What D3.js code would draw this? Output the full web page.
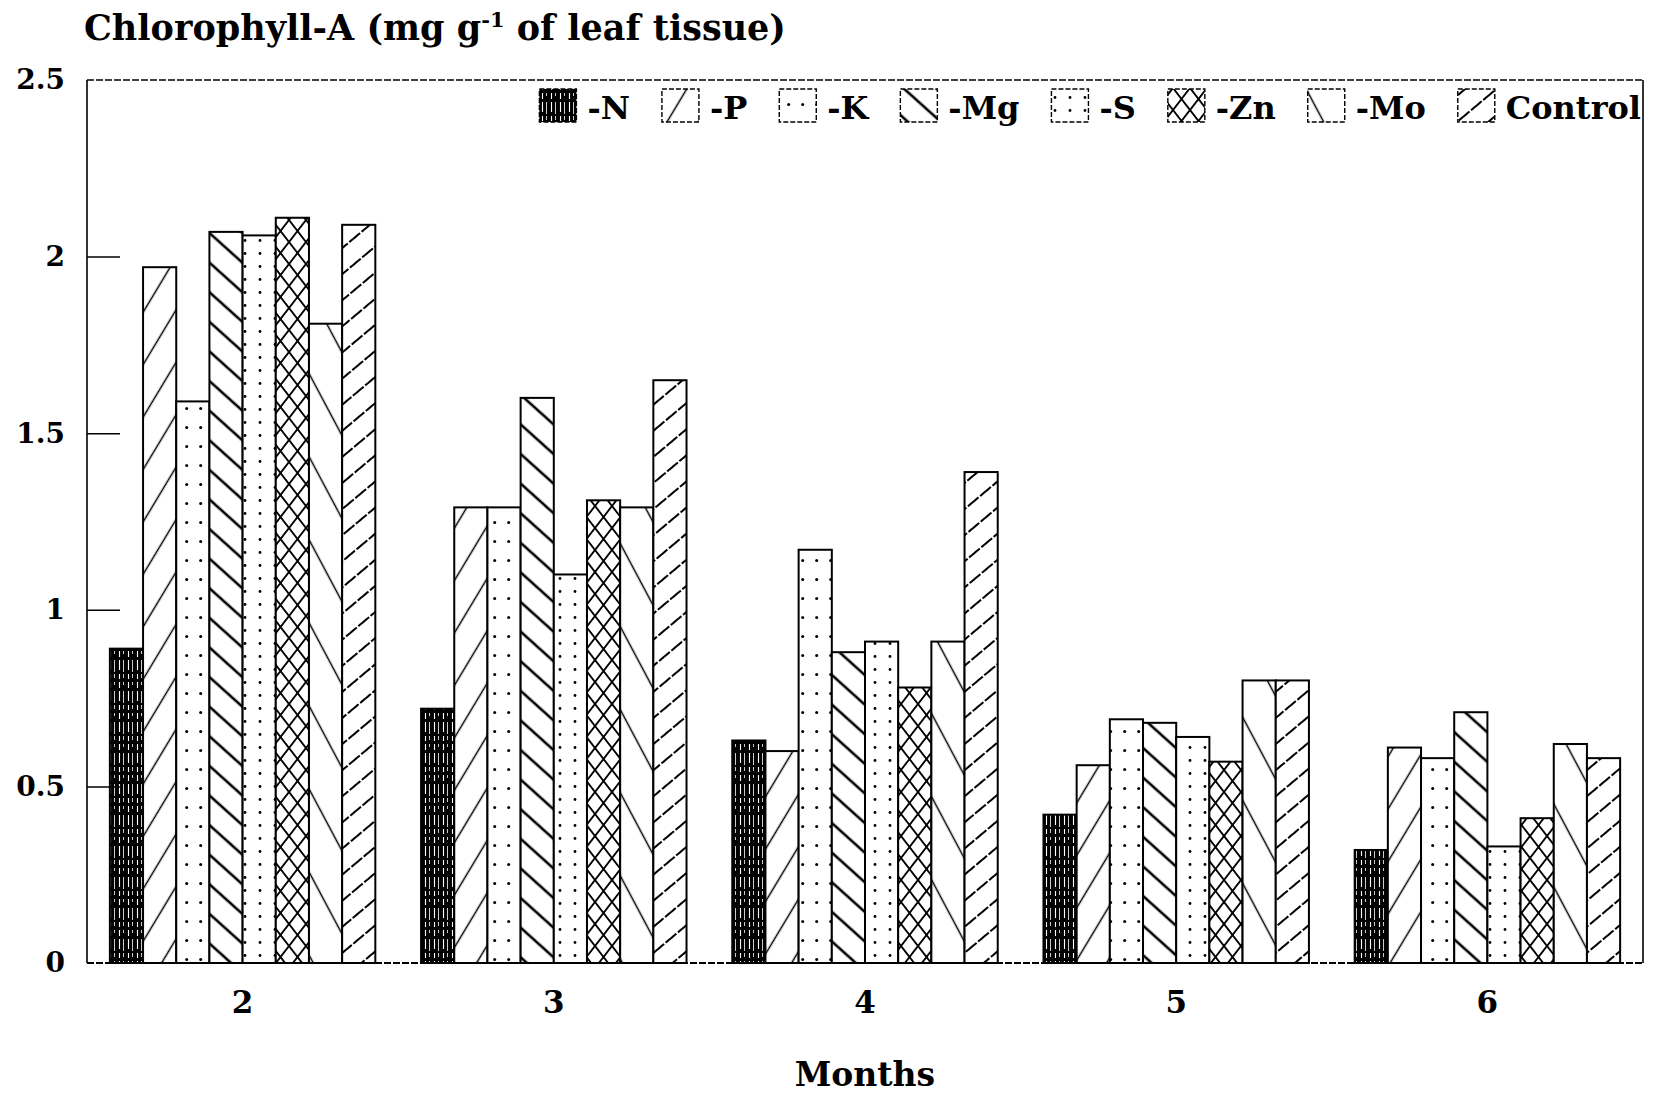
<!DOCTYPE html>
<html lang="en">

<head>
    <meta charset="UTF-8">
    <title>Chlorophyll-A</title>
    <script src="https://d3js.org/d3.v7.min.js"></script>
    <style>
        body {
            margin: 0;
            background: #fff;
        }

        text {
            font-family: 'DejaVu Serif', serif;
            fill: #000;
        }

        .bar {
            stroke: #000;
            stroke-width: 2;
        }
    </style>
</head>

<body>
    <script>

        // data
        var months = ["2", "3", "4", "5", "6"];
        var seriesNames = ["-N", "-P", "-K", "-Mg", "-S", "-Zn", "-Mo", "Control"];
        var yTicks = [0, 0.5, 1, 1.5, 2, 2.5];

        var valN = [0.89, 0.72, 0.63, 0.42, 0.32];
        var valP = [1.97, 1.29, 0.60, 0.56, 0.61];
        var valK = [1.59, 1.29, 1.17, 0.69, 0.58];
        var valMg = [2.07, 1.60, 0.88, 0.68, 0.71];
        var valS = [2.06, 1.10, 0.91, 0.64, 0.33];
        var valZn = [2.11, 1.31, 0.78, 0.57, 0.41];
        var valMo = [1.81, 1.29, 0.91, 0.80, 0.62];
        var valControl = [2.09, 1.65, 1.39, 0.80, 0.58];

        var allValues = [valN, valP, valK, valMg, valS, valZn, valMo, valControl];
        var patternIds = ["pN", "pP", "pK", "pMg", "pS", "pZn", "pMo", "pCtrl"];

        var width = 1655,
            height = 1094;
        var plotLeft = 87, plotRight = 1643, plotTop = 80, plotBottom = 963;

        var svg = d3.select('body').append('svg')
            .attr('width', width)
            .attr('height', height);

        // ---- hatch patterns ----
        var defs = svg.append("defs");

        // -N : black with white streaks
        var pN = defs.append("pattern").attr("id", "pN")
            .attr("patternUnits", "userSpaceOnUse")
            .attr("width", 9).attr("height", 31);
        pN.append("rect").attr("width", 9).attr("height", 31).attr("fill", "#000");
        pN.append("line").attr("x1", 2.5).attr("x2", 2.5).attr("y1", 0).attr("y2", 31)
            .attr("stroke", "#fff").attr("stroke-width", 1.1).attr("stroke-dasharray", "6,3,10,4,5,3");
        pN.append("line").attr("x1", 6.5).attr("x2", 6.5).attr("y1", 0).attr("y2", 31)
            .attr("stroke", "#fff").attr("stroke-width", 0.8).attr("stroke-dasharray", "3,6,12,2,4,4");

        // line hatch helpers: a line in a tile of width/height s, then rotated
        function vHatch(id, s, angle, sw, dash) {
            var p = defs.append("pattern").attr("id", id)
                .attr("patternUnits", "userSpaceOnUse")
                .attr("width", s).attr("height", 40)
                .attr("patternTransform", "rotate(" + angle + ")");
            p.append("rect").attr("width", s).attr("height", 40).attr("fill", "#fff");
            var l = p.append("line").attr("x1", s / 2).attr("x2", s / 2).attr("y1", 0).attr("y2", 40)
                .attr("stroke", "#000").attr("stroke-width", sw);
            if (dash) l.attr("stroke-dasharray", dash);
        }
        function hHatch(id, s, angle, sw, dash) {
            var p = defs.append("pattern").attr("id", id)
                .attr("patternUnits", "userSpaceOnUse")
                .attr("width", 32).attr("height", s)
                .attr("patternTransform", "rotate(" + angle + ")");
            p.append("rect").attr("width", 32).attr("height", s).attr("fill", "#fff");
            var l = p.append("line").attr("x1", 0).attr("x2", 32).attr("y1", s / 2).attr("y2", s / 2)
                .attr("stroke", "#000").attr("stroke-width", sw);
            if (dash) l.attr("stroke-dasharray", dash);
        }

        vHatch("pP", 27, 31, 1.5);
        hHatch("pMg", 22, 42, 2.6);
        hHatch("pCtrl", 20, -40, 2.2, "14,2");
        vHatch("pMo", 39, -28, 1.5);

        // dots
        function dots(id, w, h, r) {
            var p = defs.append("pattern").attr("id", id)
                .attr("patternUnits", "userSpaceOnUse")
                .attr("width", w).attr("height", h);
            p.append("rect").attr("width", w).attr("height", h).attr("fill", "#fff");
            p.append("circle").attr("cx", w / 3).attr("cy", h / 2).attr("r", r).attr("fill", "#000");
        }
        dots("pK", 14, 19, 1.5);
        dots("pS", 15, 13, 1.4);

        // cross hatch
        var pZn = defs.append("pattern").attr("id", "pZn")
            .attr("patternUnits", "userSpaceOnUse")
            .attr("width", 17).attr("height", 22);
        pZn.append("rect").attr("width", 17).attr("height", 22).attr("fill", "#fff");
        pZn.append("path").attr("d", "M0,0L17,22M17,0L0,22")
            .attr("stroke", "#000").attr("stroke-width", 1.9).attr("fill", "none");

        // ---- scales ----
        var x = d3.scaleBand()
            .domain(months)
            .range([plotLeft, plotRight])
            .paddingInner(0.147)
            .paddingOuter(0.0735);

        var xs = d3.scaleBand()
            .domain(seriesNames)
            .range([0, x.bandwidth()]);

        var y = d3.scaleLinear()
            .domain([0, 2.5])
            .range([plotBottom, plotTop]);

        // ---- bars ----
        var barData = [];
        months.forEach(function (m, i) {
            seriesNames.forEach(function (s, j) {
                barData.push({ month: m, series: s, value: allValues[j][i], pat: patternIds[j] });
            });
        });

        svg.append("g")
            .selectAll("rect")
            .data(barData)
            .join("rect")
            .attr("class", "bar")
            .attr("x", d => x(d.month) + xs(d.series))
            .attr("y", d => y(d.value))
            .attr("width", xs.bandwidth())
            .attr("height", d => y(0) - y(d.value))
            .attr("fill", d => "url(#" + d.pat + ")");

        // ---- frame ----
        var frame = svg.append("g").attr("stroke", "#000").attr("fill", "none");
        frame.append("line").attr("x1", plotLeft).attr("x2", plotLeft).attr("y1", plotTop).attr("y2", plotBottom).attr("stroke-width", 1.6);
        frame.append("line").attr("x1", plotRight).attr("x2", plotRight).attr("y1", plotTop).attr("y2", plotBottom).attr("stroke-width", 1.6);
        frame.append("line").attr("x1", plotLeft).attr("x2", plotRight).attr("y1", plotTop).attr("y2", plotTop)
            .attr("stroke-width", 1.6).attr("stroke-dasharray", "7,2");
        frame.append("line").attr("x1", plotLeft).attr("x2", plotRight).attr("y1", plotBottom).attr("y2", plotBottom)
            .attr("stroke-width", 1.8).attr("stroke-dasharray", "7,2");

        // ---- y axis ----
        var yAxis = d3.axisLeft(y)
            .tickValues(yTicks)
            .tickSize(-33)
            .tickFormat(d => d3.format("")(d));

        var gy = svg.append("g")
            .attr("transform", "translate(" + plotLeft + ",0)")
            .call(yAxis);
        gy.select(".domain").remove();
        gy.selectAll(".tick line")
            .attr("stroke", "#000")
            .attr("stroke-width", 1.5)
            .filter(d => d == 0 || d == 2.5).remove();
        gy.selectAll(".tick text")
            .attr("x", -22)
            .attr("font-size", 28)
            .attr("font-weight", "bold")
            .style("font-family", "'DejaVu Serif', serif");

        // ---- x axis ----
        var gx = svg.append("g")
            .attr("transform", "translate(0," + plotBottom + ")")
            .call(d3.axisBottom(x).tickSize(0).tickPadding(28));
        gx.select(".domain").remove();
        gx.selectAll(".tick text")
            .attr("font-size", 31)
            .attr("font-weight", "bold")
            .style("font-family", "'DejaVu Serif', serif");

        // axis titles
        svg.append("text")
            .attr("x", (plotLeft + plotRight) / 2)
            .attr("y", 1086)
            .attr("text-anchor", "middle")
            .attr("font-size", 33)
            .attr("font-weight", "bold")
            .text("Months");

        var title = svg.append("text")
            .attr("x", 84)
            .attr("y", 40)
            .attr("font-size", 35)
            .attr("font-weight", "bold");
        title.append("tspan").text("Chlorophyll-A (mg g");
        title.append("tspan").attr("dy", -13).attr("font-size", 21).text("-1");
        title.append("tspan").attr("dy", 13).text(" of leaf tissue)");

        // ---- legend, laid out from the right edge ----
        var legend = svg.append("g");
        var cursor = plotRight - 2;
        for (var i = seriesNames.length - 1; i >= 0; i--) {
            var t = legend.append("text")
                .attr("y", 119)
                .attr("font-size", 32)
                .attr("font-weight", "bold")
                .text(seriesNames[i]);
            var tw = t.node().getComputedTextLength();
            t.attr("x", cursor - tw);
            var sx = cursor - tw - 11 - 37;
            legend.append("rect")
                .attr("x", sx)
                .attr("y", 89)
                .attr("width", 37)
                .attr("height", 33)
                .attr("fill", "url(#" + patternIds[i] + ")")
                .attr("stroke", "#000")
                .attr("stroke-width", 1.4)
                .attr("stroke-dasharray", "5,2");
            cursor = sx - 32;
        }

    </script>
</body>

</html>
